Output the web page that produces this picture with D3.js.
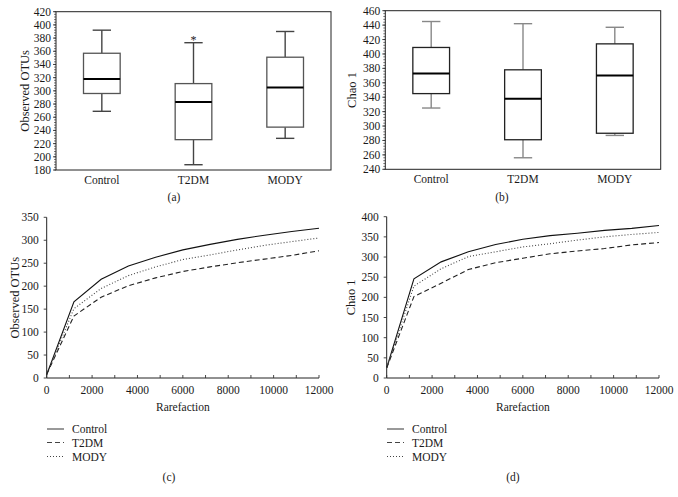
<!DOCTYPE html>
<html><head><meta charset="utf-8">
<script src="https://cdn.jsdelivr.net/npm/d3@7"></script>
<style>
html,body{margin:0;padding:0;background:#fff;}
text{font-family:'Liberation Serif','Times New Roman','DejaVu Serif',serif;}
</style></head>
<body><svg id="c" width="678" height="497" font-family="Liberation Serif, serif"></svg>
<script>
// ---- Data ----
const groups = ["Control", "T2DM", "MODY"];
// box stats: [lowWhisker, Q1, median, Q3, highWhisker]
const otuBoxes = [[269, 296, 318, 357, 392], [188, 226, 283, 311, 373], [228, 245, 305, 351, 390]];
const otuOutliers = [null, 381, null];
const chaoBoxes = [[325, 345, 373, 409, 445], [256, 281, 338, 378, 442], [287, 290, 370, 414, 437]];
const otuTicks = [180, 200, 220, 240, 260, 280, 300, 320, 340, 360, 380, 400, 420];
const chaoTicks = [240, 260, 280, 300, 320, 340, 360, 380, 400, 420, 440, 460];

const depths = [0, 1200, 2400, 3600, 4800, 6000, 7200, 8400, 9600, 10800, 12000];
const rareOtuControl = [7, 166, 215, 244, 263, 279, 291, 302, 311, 319, 326];
const rareOtuT2DM    = [8, 135, 176, 201, 218, 232, 242, 251, 259, 267, 277];
const rareOtuMODY    = [8, 151, 195, 223, 242, 258, 268, 279, 289, 297, 305];
const rareChaoControl = [25, 246, 288, 313, 331, 344, 353, 359, 366, 371, 378];
const rareChaoT2DM    = [25, 202, 235, 269, 286, 297, 308, 315, 321, 330, 336];
const rareChaoMODY    = [25, 228, 271, 301, 313, 325, 333, 342, 350, 356, 361];
const rareXTicks = [0, 2000, 4000, 6000, 8000, 10000, 12000];
const rareOtuTicks = [0, 50, 100, 150, 200, 250, 300, 350];
const rareChaoTicks = [0, 50, 100, 150, 200, 250, 300, 350, 400];

const svg = d3.select("#c");
const FS = 11.5;
const TXT = "#1a1a1a";

function boxPanel(o) {
  const g = svg.append("g");
  const x = d3.scaleBand().domain(groups).range([o.x0, o.x1]);
  const y = d3.scaleLinear().domain([o.ticks[0], o.ticks[o.ticks.length - 1]]).range([o.y1, o.y0]);
  const minor = d3.range(o.ticks[0], o.ticks[o.ticks.length - 1] + 0.1, 4);
  g.selectAll(".mn").data(minor).join("line")
    .attr("x1", o.x0 - 2).attr("x2", o.x0).attr("y1", d => y(d)).attr("y2", d => y(d))
    .attr("stroke", "#555").attr("stroke-width", 0.8);
  g.selectAll(".mj").data(o.ticks).join("line")
    .attr("x1", o.x0 - 3).attr("x2", o.x0).attr("y1", d => y(d)).attr("y2", d => y(d))
    .attr("stroke", "#333").attr("stroke-width", 0.9);
  g.selectAll(".yl").data(o.ticks).join("text")
    .attr("x", o.x0 - 5).attr("y", d => y(d)).attr("dy", "0.35em")
    .attr("text-anchor", "end").attr("font-size", FS).attr("fill", TXT).text(d => d);
  g.append("rect").attr("x", o.x0).attr("y", o.y0).attr("width", o.x1 - o.x0).attr("height", o.y1 - o.y0)
    .attr("fill", "none").attr("stroke", "#222").attr("stroke-width", 1);
  g.selectAll(".xl").data(groups).join("text")
    .attr("x", d => x(d) + x.bandwidth() / 2).attr("y", o.y1 + 14)
    .attr("text-anchor", "middle").attr("font-size", FS).attr("fill", TXT).text(d => d);
  const bw = x.bandwidth() * 0.4, cw = x.bandwidth() * 0.2;
  o.data.forEach((b, i) => {
    const cx = x(groups[i]) + x.bandwidth() / 2;
    const bg = g.append("g");
    bg.append("line").attr("x1", cx).attr("x2", cx).attr("y1", y(b[3])).attr("y2", y(b[4])).attr("stroke", o.wc).attr("stroke-width", 1.4);
    bg.append("line").attr("x1", cx).attr("x2", cx).attr("y1", y(b[1])).attr("y2", y(b[0])).attr("stroke", o.wc).attr("stroke-width", 1.4);
    bg.append("line").attr("x1", cx - cw / 2).attr("x2", cx + cw / 2).attr("y1", y(b[4])).attr("y2", y(b[4])).attr("stroke", o.wc).attr("stroke-width", 1.4);
    bg.append("line").attr("x1", cx - cw / 2).attr("x2", cx + cw / 2).attr("y1", y(b[0])).attr("y2", y(b[0])).attr("stroke", o.wc).attr("stroke-width", 1.4);
    bg.append("rect").attr("x", cx - bw / 2).attr("y", y(b[3])).attr("width", bw).attr("height", y(b[1]) - y(b[3]))
      .attr("fill", "#fff").attr("stroke", o.bc).attr("stroke-width", 1.3);
    bg.append("line").attr("x1", cx - bw / 2).attr("x2", cx + bw / 2).attr("y1", y(b[2])).attr("y2", y(b[2])).attr("stroke", "#000").attr("stroke-width", 2);
    if (o.out && o.out[i] != null) {
      bg.append("text").attr("x", cx).attr("y", y(o.out[i]) + 7).attr("text-anchor", "middle")
        .attr("font-size", 12).attr("fill", TXT).text("*");
    }
  });
  g.append("text").attr("transform", `translate(${o.labX},${(o.y0 + o.y1) / 2}) rotate(-90)`)
    .attr("text-anchor", "middle").attr("dy", "0.35em").attr("font-size", 12.5).attr("fill", TXT).text(o.label);
  g.append("text").attr("x", o.capX).attr("y", o.capY).attr("dy", "0.35em").attr("text-anchor", "middle")
    .attr("font-size", FS).attr("fill", TXT).text(o.cap);
}

boxPanel({x0: 56, x1: 331, y0: 11.7, y1: 170, ticks: otuTicks, data: otuBoxes, out: otuOutliers,
  bc: "#555", wc: "#444", label: "Observed OTUs", labX: 25, cap: "(a)", capX: 174, capY: 197});
boxPanel({x0: 385.3, x1: 660.7, y0: 10.7, y1: 169.3, ticks: chaoTicks, data: chaoBoxes, out: null,
  bc: "#222", wc: "#888", label: "Chao 1", labX: 352, cap: "(b)", capX: 502, capY: 197});

function rarePanel(o) {
  const g = svg.append("g");
  const x = d3.scaleLinear().domain([0, 12000]).range([o.x0, o.x1]);
  const y = d3.scaleLinear().domain([0, o.ticks[o.ticks.length - 1]]).range([o.y1, o.y0]);
  g.append("line").attr("x1", o.x0).attr("x2", o.x0).attr("y1", o.y0).attr("y2", o.y1).attr("stroke", "#222");
  g.append("line").attr("x1", o.x0).attr("x2", o.x1).attr("y1", o.y1).attr("y2", o.y1).attr("stroke", "#222");
  g.selectAll(".xt").data(d3.range(0, 12001, 1000)).join("line")
    .attr("x1", d => x(d)).attr("x2", d => x(d)).attr("y1", o.y1).attr("y2", o.y1 - 3)
    .attr("stroke", "#333").attr("stroke-width", 0.9);
  g.selectAll(".yt").data(o.ticks).join("line")
    .attr("x1", o.x0).attr("x2", o.x0 - 3).attr("y1", d => y(d)).attr("y2", d => y(d))
    .attr("stroke", "#333").attr("stroke-width", 0.9);
  g.selectAll(".xl").data(rareXTicks).join("text")
    .attr("x", d => x(d)).attr("y", o.y1 + 12).attr("dy", "0.35em").attr("text-anchor", "middle")
    .attr("font-size", FS).attr("fill", TXT).text(d => d);
  g.selectAll(".yl").data(o.ticks).join("text")
    .attr("x", o.x0 - 8).attr("y", d => y(d)).attr("dy", "0.35em").attr("text-anchor", "end")
    .attr("font-size", FS).attr("fill", TXT).text(d => d);
  const line = d3.line().x((d, i) => x(depths[i])).y(d => y(d));
  const styles = [
    {data: o.s[0], dash: null, col: "#111", w: 1.1},
    {data: o.s[1], dash: "5,3", col: "#222", w: 1.1},
    {data: o.s[2], dash: "1,2", col: "#444", w: 1.1}
  ];
  styles.forEach(s => {
    g.append("path").attr("d", line(s.data)).attr("fill", "none").attr("stroke", s.col)
      .attr("stroke-width", s.w).attr("stroke-dasharray", s.dash);
  });
  g.append("text").attr("x", (o.x0 + o.x1) / 2).attr("y", o.y1 + 29).attr("dy", "0.35em").attr("text-anchor", "middle")
    .attr("font-size", FS).attr("fill", TXT).text("Rarefaction");
  g.append("text").attr("transform", `translate(${o.labX},${(o.y0 + o.y1) / 2}) rotate(-90)`)
    .attr("text-anchor", "middle").attr("dy", "0.35em").attr("font-size", 12.5).attr("fill", TXT).text(o.label);
  const ly = [429, 442.5, 456.5];
  groups.forEach((name, i) => {
    g.append("line").attr("x1", o.lx).attr("x2", o.lx + 17).attr("y1", ly[i]).attr("y2", ly[i])
      .attr("stroke", i === 0 ? "#555" : "#444").attr("stroke-width", 1.2).attr("stroke-dasharray", styles[i].dash);
    g.append("text").attr("x", o.lx + 25).attr("y", ly[i]).attr("dy", "0.35em")
      .attr("font-size", FS).attr("fill", TXT).text(name);
  });
  g.append("text").attr("x", o.capX).attr("y", 477).attr("dy", "0.35em").attr("text-anchor", "middle")
    .attr("font-size", FS).attr("fill", TXT).text(o.cap);
}

rarePanel({x0: 46.7, x1: 319, y0: 217.3, y1: 378, ticks: rareOtuTicks,
  s: [rareOtuControl, rareOtuT2DM, rareOtuMODY], label: "Observed OTUs", labX: 15, lx: 47, cap: "(c)", capX: 169});
rarePanel({x0: 386.7, x1: 659, y0: 216.7, y1: 378, ticks: rareChaoTicks,
  s: [rareChaoControl, rareChaoT2DM, rareChaoMODY], label: "Chao 1", labX: 351, lx: 387, cap: "(d)", capX: 513});
</script></body></html>
